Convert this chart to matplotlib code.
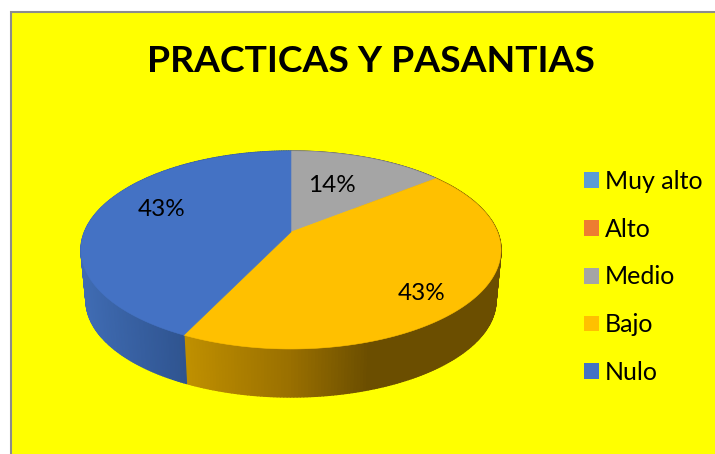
import matplotlib.pyplot as plt
from matplotlib.collections import PolyCollection
from matplotlib.patches import Patch, Polygon, Rectangle
from matplotlib.colors import to_rgb
import numpy as np

TITLE = 'PRACTICAS Y PASANTIAS'
categories = ['Muy alto', 'Alto', 'Medio', 'Bajo', 'Nulo']
values = [0, 0, 1, 3, 3]
colors = ['#5B9BD5', '#ED7D31', '#A5A5A5', '#FFC000', '#4472C4']

# labels sit by hand, Excel's 3D layout isn't a simple radius
LABEL_POS = {2: (332, 186), 3: (422, 294), 4: (162, 210)}

# side wall shading, x pixel -> colour
SIDE_SHADE = {
    3: ([185, 290, 370, 500], ['#C09000', '#9A7000', '#6B4E00', '#6B4E00']),
    4: ([85, 185], ['#3F6BB2', '#2F5490']),
    2: ([291, 437], ['#6E6E6E', '#5A5A5A']),
}

W, H = 715, 454
CX, CY = 291, 232  # apex of the pie
A, B, K = 206.5, 95.7, -0.1818  # perspective of the tilted disc
SIDE_SCALE, SIDE_CY = 0.976, 300.4
TOP_CY = 250


def project(theta):
    # theta clockwise from the top of the pie, radians
    x, y = np.sin(theta), np.cos(theta)
    w = 1 - K * y
    return CX + A * x / w, CY - B * y / w


def project_low(theta):
    px, py = project(theta)
    return CX + SIDE_SCALE * (px - CX), SIDE_CY + SIDE_SCALE * (py - TOP_CY)


def shade(idx, x):
    xs, cols = SIDE_SHADE[idx]
    rgb = np.array([to_rgb(c) for c in cols])
    return [np.interp(x, xs, rgb[:, i]) for i in range(3)]


plt.rcParams['font.family'] = ['Lato', 'DejaVu Sans']

fig = plt.figure(figsize=(W / 100, H / 100), dpi=100, facecolor='white')
ax = fig.add_axes([0, 0, 1, 1])
ax.set_xlim(0, W)
ax.set_ylim(H, 0)
ax.axis('off')

ax.add_patch(Rectangle((10.5, 11.5), W, H, facecolor='#FFFF00', edgecolor='#8C8C8C', linewidth=1.5))

fractions = np.array(values, dtype=float) / sum(values)
edges = np.concatenate([[0], np.cumsum(fractions)]) * 2 * np.pi

# side wall first, the top disc covers the back half of it
quads, quad_cols = [], []
for i in range(len(values)):
    if values[i] == 0:
        continue
    t = np.linspace(edges[i], edges[i + 1], 200)
    x0, y0 = project(t)
    x1, y1 = project_low(t)
    for j in range(len(t) - 1):
        quads.append([(x0[j], y0[j]), (x0[j + 1], y0[j + 1]), (x1[j + 1], y1[j + 1]), (x1[j], y1[j])])
        quad_cols.append(shade(i, x0[j]))
ax.add_collection(PolyCollection(quads, facecolors=quad_cols, edgecolors=quad_cols, linewidths=1.0))

for i in range(len(values)):
    if values[i] == 0:
        continue
    t = np.linspace(edges[i], edges[i + 1], 200)
    x0, y0 = project(t)
    pts = np.vstack([[CX, CY], np.column_stack([x0, y0])])
    ax.add_patch(Polygon(pts, closed=True, facecolor=colors[i], edgecolor=colors[i], linewidth=0.4))
    ax.text(*LABEL_POS[i], '{:.0f}%'.format(fractions[i] * 100), fontsize=17.5, color='black',
            ha='center', va='center')

ax.text(371, 62, TITLE, fontsize=26.8, fontweight='bold', color='black', ha='center', va='center')

handles = [Patch(facecolor=c, edgecolor='none') for c in colors]
leg = ax.legend(handles, categories, loc='upper left', bbox_to_anchor=(584 / W, 1 - 170 / H), borderaxespad=0,
                borderpad=0, frameon=False, fontsize=18, labelspacing=0.99, handlelength=0.6, handleheight=0.6,
                handletextpad=0.24, labelcolor='black')

fig.savefig('out.png', dpi=100, facecolor='white')
